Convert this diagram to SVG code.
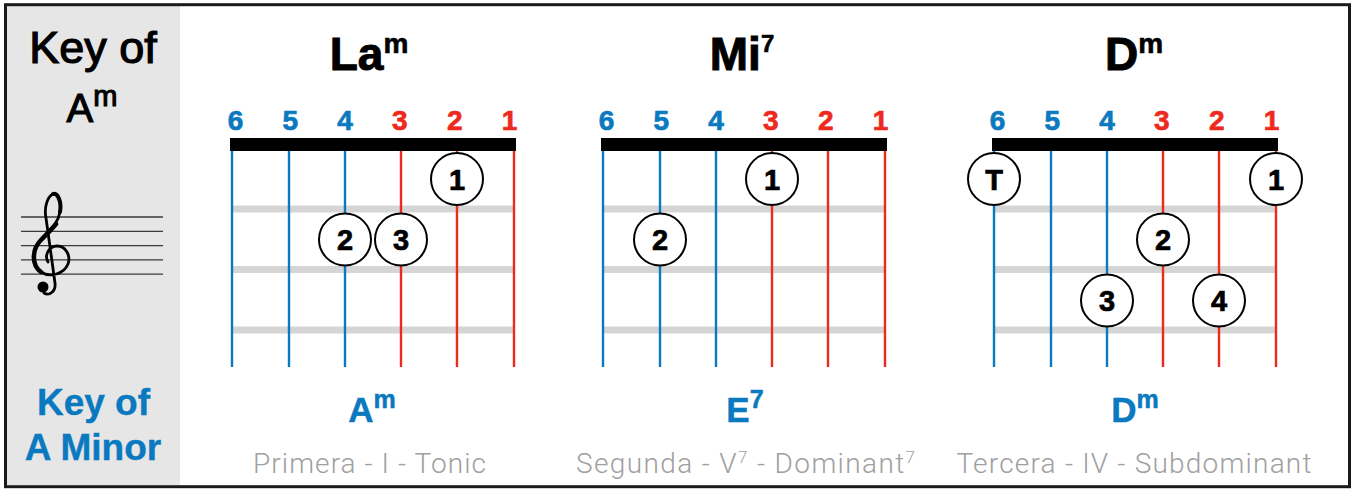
<svg xmlns="http://www.w3.org/2000/svg" width="1352" height="489" viewBox="0 0 1352 489">
<style>
.b{font-family:"Liberation Sans",Arial,sans-serif;font-weight:bold}
.title{font-size:46px;fill:#000;stroke:#000;stroke-width:1;text-anchor:middle}
.num{font-size:28px;stroke-width:0.7;text-anchor:middle}
.bl{fill:#0a79c0;stroke:#0a79c0}
.rd{fill:#ee2a1e;stroke:#ee2a1e}
.sb{stroke:#0a79c0;stroke-width:2.4}
.sr{stroke:#ee2a1e;stroke-width:2.4}
.fret{fill:#d5d5d5}
.nut{fill:#000}
.dot{fill:#fff;stroke:#000;stroke-width:2}
.dt{font-size:29px;text-anchor:middle;fill:#000;stroke:#000;stroke-width:0.7}
.chord{font-size:35px;text-anchor:middle;fill:#0a79c0;stroke:#0a79c0;stroke-width:0.5}
.sub{font-family:Roboto,"Liberation Sans",sans-serif;font-weight:300;font-size:28px;fill:#a0a0a0;text-anchor:middle}
.staff{stroke:#3a3a3a;stroke-width:1.3}
</style>
<rect x="0" y="0" width="1352" height="489" fill="#fff"/>

<g id="key-panel">
  <rect x="7" y="6" width="173" height="479" fill="#e6e6e6"/>
  <text x="93" y="63" font-family="Liberation Sans, Arial, sans-serif" font-size="45" fill="#000" stroke="#000" stroke-width="1.2" text-anchor="middle">Key of</text>
  <text x="92" y="122" font-family="Liberation Sans, Arial, sans-serif" font-size="40" fill="#000" stroke="#000" stroke-width="1.1" text-anchor="middle">A<tspan font-size="29" dy="-16">m</tspan></text>
  <g id="staff">
    <line class="staff" x1="21" y1="217" x2="163" y2="217"/>
    <line class="staff" x1="21" y1="231.3" x2="163" y2="231.3"/>
    <line class="staff" x1="21" y1="245.6" x2="163" y2="245.6"/>
    <line class="staff" x1="21" y1="259.9" x2="163" y2="259.9"/>
    <line class="staff" x1="21" y1="274.2" x2="163" y2="274.2"/>
    <path d="M48,262 C44,255 49,246 57,246 C66,246 71,256 68,264 C64,274 50,278 41,272 C31,265 32,249 41,240 C48,232 58,224 60,212 C62,201 57,192 53,194 C47,197 44,208 46,218 L55,283 C56,292 49,296 44,293" fill="none" stroke="#000" stroke-width="2.8" stroke-linecap="round"/>
    <path d="M41,272 C31,265 32,249 41,240 C46,235 52,229 56,224" fill="none" stroke="#000" stroke-width="4.5" stroke-linecap="round"/>
    <path d="M60,212 C62,201 57,192 53,194" fill="none" stroke="#000" stroke-width="4" stroke-linecap="round"/>
    <circle cx="43" cy="287" r="5.5" fill="#000"/>
  </g>
  <text class="b bl" x="93.5" y="415" font-size="37" stroke-width="0.4" text-anchor="middle">Key of</text>
  <text class="b bl" x="93" y="460" font-size="37" stroke-width="0.4" text-anchor="middle">A Minor</text>
</g>

<g id="chord-am">
  <text class="b title" x="369" y="70">La<tspan font-size="28" stroke-width="0.6" dy="-17">m</tspan></text>
  <text class="b num bl" x="235.5" y="130">6</text>
  <text class="b num bl" x="290.3" y="130">5</text>
  <text class="b num bl" x="345.1" y="130">4</text>
  <text class="b num rd" x="399.9" y="130">3</text>
  <text class="b num rd" x="454.7" y="130">2</text>
  <text class="b num rd" x="509.5" y="130">1</text>
  <rect class="fret" x="232" y="205.5" width="282" height="7"/>
  <rect class="fret" x="232" y="266" width="282" height="7"/>
  <rect class="fret" x="232" y="326.5" width="282" height="7"/>
  <line class="sb" x1="232" y1="150" x2="232" y2="367"/>
  <line class="sb" x1="289" y1="150" x2="289" y2="367"/>
  <line class="sb" x1="345" y1="150" x2="345" y2="367"/>
  <line class="sr" x1="401" y1="150" x2="401" y2="367"/>
  <line class="sr" x1="457" y1="150" x2="457" y2="367"/>
  <line class="sr" x1="514" y1="150" x2="514" y2="367"/>
  <rect class="nut" x="230" y="138" width="286" height="13"/>
  <circle class="dot" cx="457" cy="179" r="26"/><text class="b dt" x="457" y="189.5">1</text>
  <circle class="dot" cx="345" cy="239.5" r="26"/><text class="b dt" x="345" y="250">2</text>
  <circle class="dot" cx="401" cy="239.5" r="26"/><text class="b dt" x="401" y="250">3</text>
  <text class="b chord" x="372" y="422">A<tspan font-size="25" dy="-14">m</tspan></text>
  <text class="sub" x="369.5" y="473" textLength="233">Primera - I - Tonic</text>
</g>

<g id="chord-e7">
  <text class="b title" x="742" y="70">Mi<tspan font-size="24" stroke-width="0.6" dy="-18">7</tspan></text>
  <text class="b num bl" x="606.5" y="130">6</text>
  <text class="b num bl" x="661.3" y="130">5</text>
  <text class="b num bl" x="716.1" y="130">4</text>
  <text class="b num rd" x="770.9" y="130">3</text>
  <text class="b num rd" x="825.7" y="130">2</text>
  <text class="b num rd" x="880.5" y="130">1</text>
  <rect class="fret" x="603" y="205.5" width="282" height="7"/>
  <rect class="fret" x="603" y="266" width="282" height="7"/>
  <rect class="fret" x="603" y="326.5" width="282" height="7"/>
  <line class="sb" x1="603" y1="150" x2="603" y2="367"/>
  <line class="sb" x1="660" y1="150" x2="660" y2="367"/>
  <line class="sb" x1="716" y1="150" x2="716" y2="367"/>
  <line class="sr" x1="772" y1="150" x2="772" y2="367"/>
  <line class="sr" x1="828" y1="150" x2="828" y2="367"/>
  <line class="sr" x1="885" y1="150" x2="885" y2="367"/>
  <rect class="nut" x="601" y="138" width="286" height="13"/>
  <circle class="dot" cx="772" cy="179" r="26"/><text class="b dt" x="772" y="189.5">1</text>
  <circle class="dot" cx="660" cy="239.5" r="26"/><text class="b dt" x="660" y="250">2</text>
  <text class="b chord" x="745" y="422">E<tspan font-size="25" dy="-14">7</tspan></text>
  <text class="sub" x="745.5" y="473" textLength="339">Segunda - V<tspan font-size="17" dy="-10">7</tspan><tspan dy="10"> - Dominant</tspan><tspan font-size="17" dy="-10">7</tspan></text>
</g>

<g id="chord-dm">
  <text class="b title" x="1134" y="70">D<tspan font-size="28" stroke-width="0.6" dy="-17">m</tspan></text>
  <text class="b num bl" x="997.5" y="130">6</text>
  <text class="b num bl" x="1052.3" y="130">5</text>
  <text class="b num bl" x="1107.1" y="130">4</text>
  <text class="b num rd" x="1161.9" y="130">3</text>
  <text class="b num rd" x="1216.7" y="130">2</text>
  <text class="b num rd" x="1271.5" y="130">1</text>
  <rect class="fret" x="994" y="205.5" width="282" height="7"/>
  <rect class="fret" x="994" y="266" width="282" height="7"/>
  <rect class="fret" x="994" y="326.5" width="282" height="7"/>
  <line class="sb" x1="994" y1="150" x2="994" y2="367"/>
  <line class="sb" x1="1051" y1="150" x2="1051" y2="367"/>
  <line class="sb" x1="1107" y1="150" x2="1107" y2="367"/>
  <line class="sr" x1="1163" y1="150" x2="1163" y2="367"/>
  <line class="sr" x1="1219" y1="150" x2="1219" y2="367"/>
  <line class="sr" x1="1276" y1="150" x2="1276" y2="367"/>
  <rect class="nut" x="992" y="138" width="286" height="13"/>
  <circle class="dot" cx="994" cy="179" r="26"/><text class="b dt" x="994" y="189.5">T</text>
  <circle class="dot" cx="1276" cy="179" r="26"/><text class="b dt" x="1276" y="189.5">1</text>
  <circle class="dot" cx="1163" cy="239.5" r="26"/><text class="b dt" x="1163" y="250">2</text>
  <circle class="dot" cx="1107" cy="300.5" r="26"/><text class="b dt" x="1107" y="311">3</text>
  <circle class="dot" cx="1219" cy="300.5" r="26"/><text class="b dt" x="1219" y="311">4</text>
  <text class="b chord" x="1135" y="422">D<tspan font-size="25" dy="-14">m</tspan></text>
  <text class="sub" x="1134" y="473" textLength="355">Tercera - IV - Subdominant</text>
</g>

<rect x="5.5" y="4.7" width="1344" height="482" fill="none" stroke="#1a1a1a" stroke-width="3"/>
</svg>
